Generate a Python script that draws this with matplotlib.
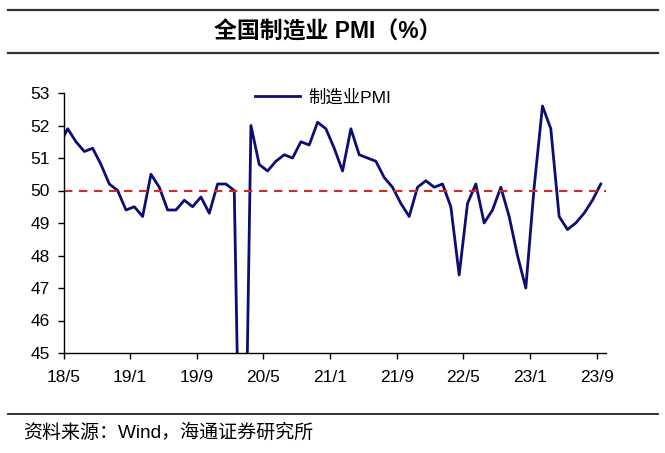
import matplotlib
matplotlib.use("Agg")
import matplotlib.pyplot as plt
from matplotlib.lines import Line2D
import pandas as pd

# ---- data ----
start_month = "2018-04"
pmi = [51.4, 51.9, 51.5, 51.2, 51.3, 50.8, 50.2, 50.0, 49.4,
       49.5, 49.2, 50.5, 50.1, 49.4, 49.4, 49.7, 49.5, 49.8, 49.3, 50.2, 50.2,
       50.0, 35.7, 52.0, 50.8, 50.6, 50.9, 51.1, 51.0, 51.5, 51.4, 52.1, 51.9,
       51.3, 50.6, 51.9, 51.1, 51.0, 50.9, 50.4, 50.1, 49.6, 49.2, 50.1, 50.3,
       50.1, 50.2, 49.5, 47.4, 49.6, 50.2, 49.0, 49.4, 50.1, 49.2, 48.0, 47.0,
       50.1, 52.6, 51.9, 49.2, 48.8, 49.0, 49.3, 49.7, 50.2]
tick_labels = ["18/5", "19/1", "19/9", "20/5", "21/1", "21/9", "22/5", "23/1", "23/9"]
tick_months = ["2018-05", "2019-01", "2019-09", "2020-05", "2021-01",
               "2021-09", "2022-05", "2023-01", "2023-09"]
ref_level = 50
title = "全国制造业 PMI（%）"
series_name = "制造业PMI"
source = "资料来源：Wind，海通证券研究所"

# ---- positions (months since 2018/5) ----
origin = pd.Period("2018-05", freq="M")
periods = pd.period_range(start=start_month, periods=len(pmi), freq="M")
x = [(p - origin).n + 0.5 for p in periods]
tick_x = [(pd.Period(m, freq="M") - origin).n for m in tick_months]

W, H = 665, 453
fig = plt.figure(figsize=(W / 100, H / 100), dpi=100)
ax = fig.add_axes([63.5 / W, 1 - 353 / H, (606 - 63.5) / W, (353 - 93) / H])

line_color = "#0d0d73"
ax.plot(x, pmi, color=line_color, lw=2.0, label=series_name,
        solid_joinstyle="round", clip_on=True)
ax.axhline(ref_level, color="#d42a2a", lw=1.5, ls=(0, (4, 3.2)))

ax.set_xlim(0, (606 - 63.5) / 8.33)
ax.set_ylim(45, 53)
ax.set_yticks(range(45, 54))
ax.set_xticks(tick_x)
ax.set_xticklabels(tick_labels)

for s in ["top", "right"]:
    ax.spines[s].set_visible(False)
for s in ["left", "bottom"]:
    ax.spines[s].set_linewidth(1.0)
    ax.spines[s].set_color("black")

tick_font = {"family": ["Liberation Sans", "DejaVu Sans"], "size": 12.5}
ax.tick_params(axis="y", direction="out", length=4, width=1, pad=6)
ax.tick_params(axis="x", direction="out", length=4, width=1, pad=8)
for lab in ax.get_xticklabels() + ax.get_yticklabels():
    lab.set_fontfamily(tick_font["family"])
    lab.set_fontsize(tick_font["size"])

cjk = ["Liberation Sans", "Noto Sans CJK SC"]
leg = ax.legend(loc="center left", bbox_to_anchor=((255 - 63.5) / 542.5, (353 - 97) / 260),
                frameon=False, borderpad=0, borderaxespad=0, handlelength=2.6,
                handletextpad=0.45,
                prop={"family": cjk, "size": 12.5})

fig.add_artist(Line2D([8 / W, 658 / W], [1 - 10 / H, 1 - 10 / H], color="#333333", lw=1.6))
fig.add_artist(Line2D([8 / W, 658 / W], [1 - 52.5 / H, 1 - 52.5 / H], color="#333333", lw=1.6))
fig.text(328 / W, 1 - 32 / H, title, ha="center", va="center",
         family=cjk, fontsize=16.5, fontweight="bold")
fig.add_artist(Line2D([8 / W, 658 / W], [1 - 414 / H, 1 - 414 / H], color="#222222", lw=1.3))
fig.text(23 / W, 1 - 433 / H, source, ha="left", va="center",
         family=cjk, fontsize=13.7)

fig.savefig("out.png", dpi=100)
